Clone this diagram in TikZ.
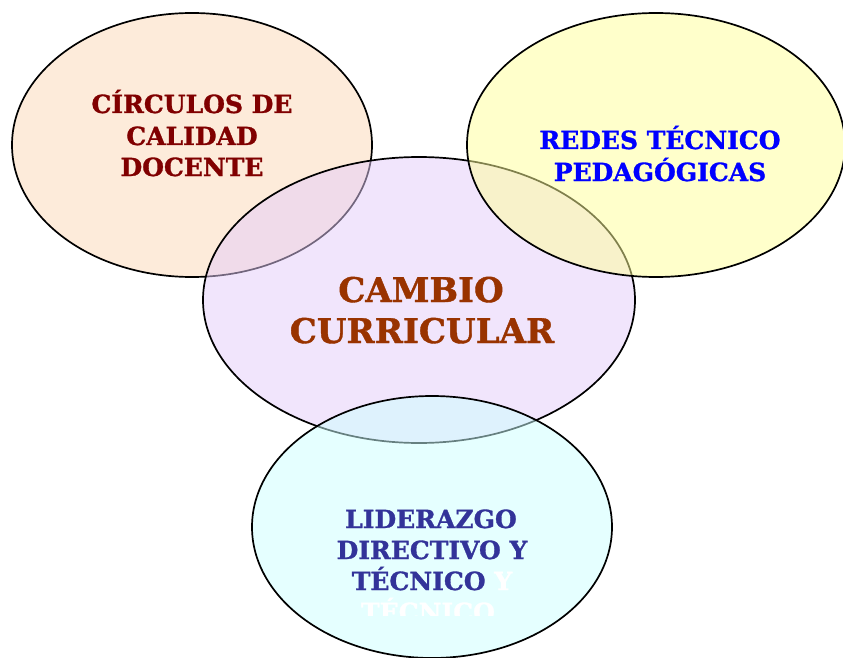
\documentclass[tikz,border=0pt]{standalone}
\usepackage{fontspec}
\setmainfont{DejaVu Serif}[BoldFeatures={FakeBold=1.2}]
\usetikzlibrary{shapes.geometric}
\definecolor{peach}{HTML}{FDEBDA}
\definecolor{lav}{HTML}{E5CDFB}
\definecolor{yel}{HTML}{FFFF99}
\definecolor{cya}{HTML}{CDFFFF}
\definecolor{tred}{HTML}{800000}
\definecolor{tbrown}{HTML}{993300}
\definecolor{tblue}{HTML}{0000FF}
\definecolor{tnavy}{HTML}{333399}
\tikzset{
  bubble/.style={ellipse, draw=black, line width=1.7pt, inner sep=0pt, outer sep=0pt},
  small/.style={anchor=base, inner sep=0pt, font=\fontsize{25}{31}\selectfont\bfseries},
  big/.style={anchor=base, inner sep=0pt, font=\fontsize{34}{41}\selectfont\bfseries}
}
\begin{document}
\begin{tikzpicture}[x=1pt,y=-1pt]
\fill[white] (0,0) rectangle (843,658);
\useasboundingbox (0,0) rectangle (843,658);
% ellipses
\node[bubble, fill=peach, minimum width=360pt, minimum height=264pt] (e1) at (192,145) {};
\node[bubble, fill=lav, fill opacity=0.5, minimum width=432pt, minimum height=286pt] (e2) at (419,300) {};
\node[bubble, fill=yel, fill opacity=0.5, minimum width=378pt, minimum height=264pt] (e3) at (656,145) {};
\node[bubble, fill=cya, fill opacity=0.5, minimum width=360pt, minimum height=262pt] (e4) at (432,527) {};
% texts
\node[small, text=tred] (a1) at (192,113) {CÍRCULOS DE};
\node[small, text=tred] (a2) at (192,145) {CALIDAD};
\node[small, text=tred] (a3) at (192,176) {DOCENTE};
\node[small, text=tblue] (b1) at (660,149) {REDES TÉCNICO};
\node[small, text=tblue] (b2) at (660,181) {PEDAGÓGICAS};
\node[big, text=tbrown] (c1) at (421,302) {CAMBIO};
\node[big, text=tbrown] (c2) at (422,343) {CURRICULAR};
\node[small, text=tnavy] (d1) at (431,528) {LIDERAZGO};
\node[small, text=tnavy] (d2) at (432,559) {DIRECTIVO Y};
\node[small, text=tnavy] (d3) at (432,590) {TÉCNICO \textcolor{white}{Y}};
\begin{scope}
\clip (0,0) rectangle (843,615);
\node[small, text=white] (d4) at (428,621) {TÉCNICO};
\end{scope}
\end{tikzpicture}
\end{document}
